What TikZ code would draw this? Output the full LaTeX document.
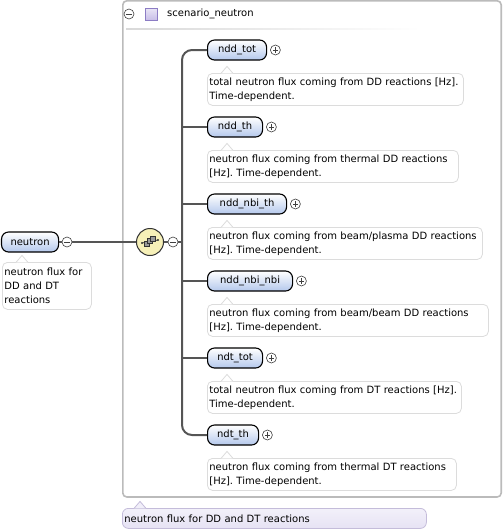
\documentclass[tikz,border=0pt]{standalone}
\usepackage{fontspec}
\newfontfamily\uifont{DejaVu Sans}
\usetikzlibrary{calc,positioning}
\frenchspacing
\definecolor{elemblue}{HTML}{B4C8EC}
\definecolor{docgray}{HTML}{DCDCDC}
\definecolor{boxgray}{HTML}{BBBBBB}
\definecolor{lineg}{HTML}{555555}
\definecolor{seqfill}{HTML}{F6F0B8}
\definecolor{lav}{HTML}{C8BEE8}
\definecolor{lavd}{HTML}{8C7CC4}
\definecolor{lavdoc}{HTML}{E6E2F4}
\definecolor{lavdocb}{HTML}{C4BCDA}
\tikzset{
  txt/.style={font=\uifont\fontsize{10}{14}\selectfont},
  elem/.style={txt, draw=black, line width=1.1pt, rounded corners=7pt, top color=white, bottom color=elemblue, minimum height=20pt, inner xsep=4pt, inner ysep=0pt, anchor=west},
  docbox/.style={txt, draw=docgray, line width=0.8pt, fill=white, rounded corners=5pt, align=left, anchor=north west, inner xsep=2pt, inner ysep=2pt, minimum height=32pt},
  pm/.style={circle, draw=black!75, fill=white, line width=0.6pt, minimum size=10pt, inner sep=0pt},
  minus/.style={pm, path picture={\draw[line width=0.8pt] ([xshift=-2.6pt]path picture bounding box.center) -- ([xshift=2.6pt]path picture bounding box.center);}},
  plus/.style={pm, path picture={\draw[line width=0.8pt] ([xshift=-2.6pt]path picture bounding box.center) -- ([xshift=2.6pt]path picture bounding box.center) ([yshift=-2.6pt]path picture bounding box.center) -- ([yshift=2.6pt]path picture bounding box.center);}},
  conn/.style={draw=lineg, line width=2pt},
  thin/.style={draw=lineg, line width=1.5pt},
}
\newcommand{\notch}[2]{\path[draw=#2, fill=white, line width=0.8pt] ($(#1.north west)+(14,0.4)$) -- ++(6,-7) -- ++(6,7);}
\begin{document}
\begin{tikzpicture}[x=1pt,y=-1pt]
\useasboundingbox (0,0) rectangle (504,531);
% outer box
\draw[boxgray, line width=1.6pt, rounded corners=4pt] (122.8,0.8) rectangle (501.2,497);
\node[minus] (hm) at (129,14) {};
\node[draw=lavd, line width=0.8pt, top color=lav!40, bottom color=lav, minimum size=12pt, inner sep=0pt] (hsq) at (151,14) {};
\node[txt, anchor=west, inner sep=0pt] (htitle) at (167,14) {scenario\_neutron};
\shade[left color=black!15, right color=white] (126,28) rectangle (420,29.5);

% root element
\node[elem, minimum width=57pt] (neutron) at (1,242) {neutron};
\node[minus] (nm) at (67,242) {};
\node[docbox, text width=85pt, minimum width=89pt, minimum height=47pt] (ndoc) at (2,262) {neutron flux for\\DD and DT\\reactions};
\notch{ndoc}{docgray}

% sequence
\node[circle, draw=black!80, line width=1pt, fill=seqfill, minimum size=27pt, inner sep=0pt] (seq) at (150,242) {};
\begin{scope}[shift={(150,242)}]
  \draw[black!80, line width=0.8pt] (-8,1) -- (8,-2);
  \fill[black!80] (-8,1) circle (1.2) (8,-2) circle (1.2);
  \draw[black!80, fill=black!40, line width=0.6pt] (-6,-1) rectangle (-1,4);
  \draw[black!80, fill=black!40, line width=0.6pt] (-3,-3.5) rectangle (2,1.5);
  \draw[black!80, fill=black!40, line width=0.6pt] (0,-6) rectangle (5,-1);
\end{scope}
\node[minus] (sm) at (173,242) {};
\draw[thin] (neutron.east) -- (nm.west);
\draw[thin] (nm.east) -- (seq.west);
\draw[thin] (seq.east) -- (sm.west);

% children
\node[elem, minimum width=59pt] (c1) at (207,50) {ndd\_tot};
\node[plus, right=3pt of c1] (p1) {};
\node[docbox, text width=252pt, minimum width=256pt] (d1) at (207,73) {total neutron flux coming from DD reactions [Hz].\\Time-dependent.};
\notch{d1}{docgray}

\node[elem, minimum width=55pt] (c2) at (207,127) {ndd\_th};
\node[plus, right=3pt of c2] (p2) {};
\node[docbox, text width=247pt, minimum width=251pt] (d2) at (207,150) {neutron flux coming from thermal DD reactions\\{}[Hz]. Time-dependent.};
\notch{d2}{docgray}

\node[elem, minimum width=79pt] (c3) at (207,204) {ndd\_nbi\_th};
\node[plus, right=3pt of c3] (p3) {};
\node[docbox, text width=271pt, minimum width=275pt] (d3) at (207,227) {neutron flux coming from beam/plasma DD reactions\\{}[Hz]. Time-dependent.};
\notch{d3}{docgray}

\node[elem, minimum width=85pt] (c4) at (207,281) {ndd\_nbi\_nbi};
\node[plus, right=3pt of c4] (p4) {};
\node[docbox, text width=277pt, minimum width=281pt] (d4) at (207,304) {neutron flux coming from beam/beam DD reactions\\{}[Hz]. Time-dependent.};
\notch{d4}{docgray}

\node[elem, minimum width=55pt] (c5) at (207,358) {ndt\_tot};
\node[plus, right=3pt of c5] (p5) {};
\node[docbox, text width=250pt, minimum width=254pt] (d5) at (207,381) {total neutron flux coming from DT reactions [Hz].\\Time-dependent.};
\notch{d5}{docgray}

\node[elem, minimum width=51pt] (c6) at (207,435) {ndt\_th};
\node[plus, right=3pt of c6] (p6) {};
\node[docbox, text width=245pt, minimum width=249pt] (d6) at (207,458) {neutron flux coming from thermal DT reactions\\{}[Hz]. Time-dependent.};
\notch{d6}{docgray}

% bus
\coordinate (btop) at (182,50);
\coordinate (bbot) at (182,435);
\coordinate (bmid) at (182,242);
\draw[conn, rounded corners=10pt] (c1.west) -- (btop) -- (bbot) -- (c6.west);
\foreach \c in {c2,c3,c4,c5} \draw[conn] (\c.west) -- (bmid |- \c.west);
\draw[conn] (sm.east) -- (bmid);

% bottom doc
\node[txt, draw=lavdocb, line width=0.8pt, top color=lavdoc!50, bottom color=lavdoc, rounded corners=6pt, anchor=north west, minimum width=304pt, minimum height=20pt, inner xsep=2pt, inner ysep=0pt, text width=300pt, align=left] (bdoc) at (122,508) {neutron flux for DD and DT reactions};
\path[draw=lavdocb, fill=lavdoc!55, line width=0.8pt] ($(bdoc.north west)+(12,0.4)$) -- ++(6,-7) -- ++(6,7);
\end{tikzpicture}
\end{document}
